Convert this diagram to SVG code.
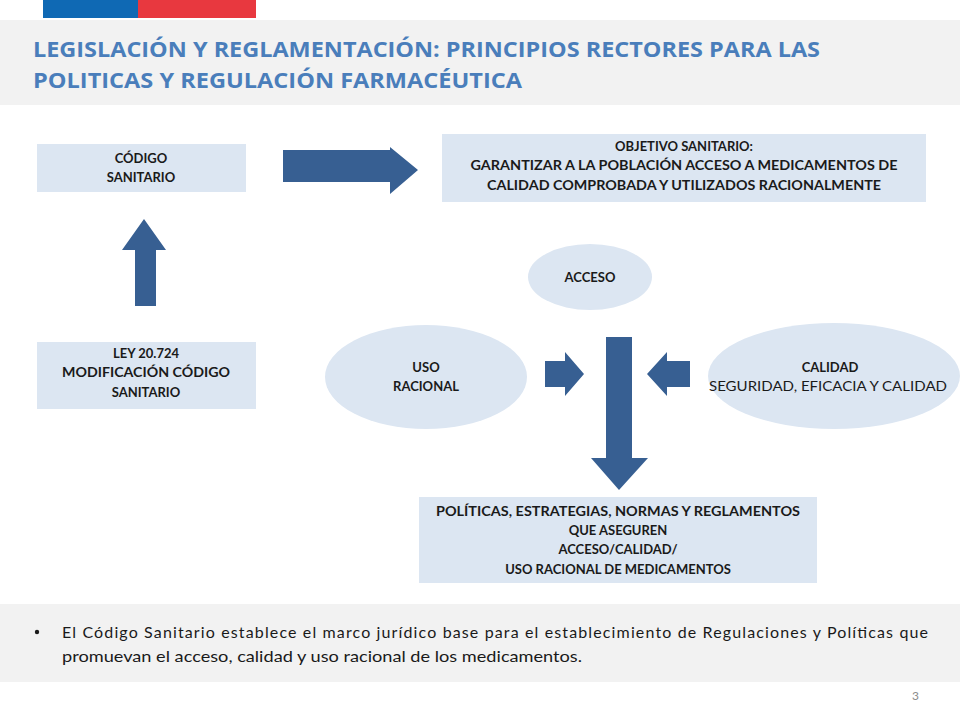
<svg xmlns="http://www.w3.org/2000/svg" width="960" height="720" viewBox="0 0 960 720">
<style>
.box{fill:#dce6f2}
.arrow{fill:#375f92}
.lbl{font-family:Lato,"Open Sans","Liberation Sans",sans-serif;font-weight:bold;font-size:13px;fill:#1a1a1a;text-anchor:middle}
.reg{font-weight:normal}
.title{font-family:"Open Sans",Lato,"Liberation Sans",sans-serif;font-weight:bold;font-size:21px;fill:#4a7ebb}
.body{font-family:Lato,"Open Sans","Liberation Sans",sans-serif;font-size:16px;fill:#1a1a1a}
</style>
<rect x="0" y="0" width="960" height="720" fill="#ffffff"/>
<rect x="43" y="0" width="95" height="18" fill="#0f69b4"/>
<rect x="138" y="0" width="118" height="18" fill="#e8383f"/>
<rect x="0" y="20" width="960" height="85" fill="#f2f2f2"/>
<text class="title" x="33" y="57" textLength="787" lengthAdjust="spacingAndGlyphs">LEGISLACIÓN Y REGLAMENTACIÓN: PRINCIPIOS RECTORES PARA LAS</text>
<text class="title" x="33" y="88" textLength="489" lengthAdjust="spacingAndGlyphs">POLITICAS Y REGULACIÓN FARMACÉUTICA</text>

<g id="codigo">
<rect class="box" x="37" y="144" width="209" height="48"/>
<text class="lbl" x="141" y="163">CÓDIGO</text>
<text class="lbl" x="141" y="182">SANITARIO</text>
</g>
<g id="objetivo">
<rect class="box" x="442" y="134" width="484" height="68"/>
<text class="lbl" x="684" y="151">OBJETIVO SANITARIO:</text>
<text class="lbl" x="684" y="170" textLength="427" lengthAdjust="spacingAndGlyphs">GARANTIZAR A LA POBLACIÓN ACCESO A MEDICAMENTOS DE</text>
<text class="lbl" x="684" y="190" textLength="394" lengthAdjust="spacingAndGlyphs">CALIDAD COMPROBADA Y UTILIZADOS RACIONALMENTE</text>
</g>
<g id="ley">
<rect class="box" x="37" y="342" width="219" height="67"/>
<text class="lbl" x="146" y="358">LEY 20.724</text>
<text class="lbl" x="146" y="377" textLength="168" lengthAdjust="spacingAndGlyphs">MODIFICACIÓN CÓDIGO</text>
<text class="lbl" x="146" y="397">SANITARIO</text>
</g>
<g id="acceso">
<ellipse class="box" cx="590" cy="277" rx="62" ry="33"/>
<text class="lbl" x="590" y="282">ACCESO</text>
</g>
<g id="uso">
<ellipse class="box" cx="426" cy="377" rx="101" ry="52"/>
<text class="lbl" x="426" y="372">USO</text>
<text class="lbl" x="426" y="391">RACIONAL</text>
</g>
<g id="calidad">
<ellipse class="box" cx="834" cy="376" rx="126" ry="53"/>
<text class="lbl" x="830" y="372">CALIDAD</text>
<text class="lbl reg" x="828" y="391" textLength="238" lengthAdjust="spacingAndGlyphs">SEGURIDAD, EFICACIA Y CALIDAD</text>
</g>
<g id="politicas">
<rect class="box" x="419" y="497" width="398" height="86"/>
<text class="lbl" x="618" y="516" textLength="364" lengthAdjust="spacingAndGlyphs">POLÍTICAS, ESTRATEGIAS, NORMAS Y REGLAMENTOS</text>
<text class="lbl" x="618" y="535">QUE ASEGUREN</text>
<text class="lbl" x="618" y="554">ACCESO/CALIDAD/</text>
<text class="lbl" x="618" y="574">USO RACIONAL DE MEDICAMENTOS</text>
</g>

<g id="connectors">
<polygon class="arrow" points="283,150 390,150 390,147 418,170 390,194 390,182 283,182"/>
<polygon class="arrow" points="135,306 135,250 122,250 144,219 166,250 156,250 156,306"/>
<polygon class="arrow" points="606,337 632,337 632,458 648,458 619,490 591,458 606,458"/>
<polygon class="arrow" points="545,361 565,361 565,352 584,374 565,396 565,387 545,387"/>
<polygon class="arrow" points="690,361 667,361 667,352 647,374 667,396 667,387 690,387"/>
</g>

<rect x="0" y="604" width="960" height="78" fill="#f2f2f2"/>
<circle cx="37" cy="632" r="2.2" fill="#1a1a1a"/>
<text class="body" x="62" y="638" textLength="866" lengthAdjust="spacing">El Código Sanitario establece el marco jurídico base para el establecimiento de Regulaciones y Políticas que</text>
<text class="body" x="62" y="662" textLength="520" lengthAdjust="spacingAndGlyphs">promuevan el acceso, calidad y uso racional de los medicamentos.</text>
<text x="912" y="700" font-family="Lato,'Liberation Sans',sans-serif" font-size="12" fill="#8c8c8c">3</text>
</svg>
